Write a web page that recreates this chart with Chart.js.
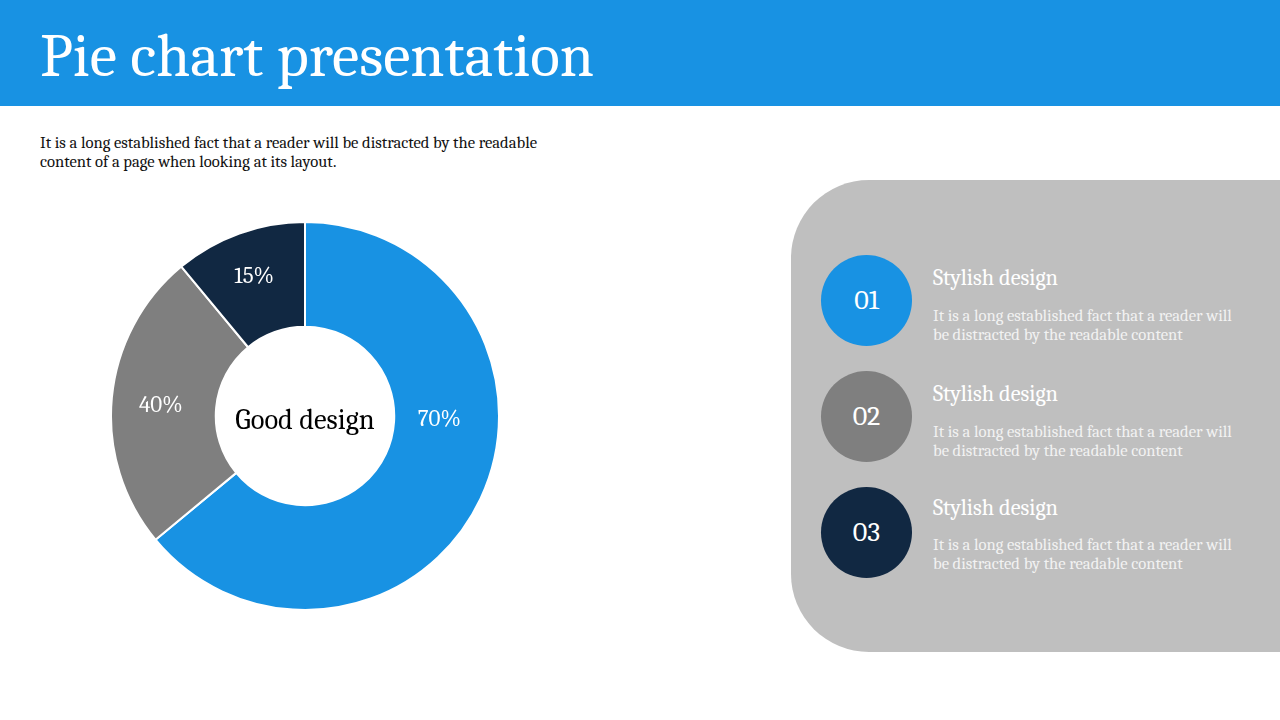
<!DOCTYPE html>
<html>
<head>
<meta charset="utf-8">
<script src="https://cdn.jsdelivr.net/npm/chart.js@4"></script>
<style>
  body { margin: 0; width: 1280px; height: 720px; position: relative; overflow: hidden; background: #fff;
         font-family: Cambria, "Liberation Serif", serif; }
  .header { position: absolute; left: 0; top: 0; width: 1280px; height: 106px; background: #1892E3; }
  .header h1 { margin: 0; position: absolute; left: 40px; top: 21px; color: #fff; font-weight: normal; font-size: 61.4px; line-height: 70px; }
  .intro { position: absolute; left: 40px; top: 133px; width: 515px; font-size: 16.6px; line-height: 19px; color: #111; }
  .panel { position: absolute; left: 791px; top: 180px; width: 489px; height: 472px; background: #BFBFBF;
           border-radius: 78px 0 0 78px; }
  .item { position: absolute; left: 821px; width: 440px; height: 92px; }
  .dot { position: absolute; left: 0; top: 0; width: 91px; height: 91px; border-radius: 50%; color: #fff;
         font-size: 28px; line-height: 91px; text-align: center; }
  .item h3 { position: absolute; left: 112px; top: 10px; margin: 0; font-weight: normal; font-size: 22.3px; color: #fff; white-space: nowrap; }
  .item p { position: absolute; left: 112px; top: 51px; margin: 0; font-size: 16.6px; line-height: 19px; color: #F2F2F2; width: 312px; }
  .chartbox { position: absolute; left: 110px; top: 221px; width: 390px; height: 390px; }
</style>
</head>
<body>
<div class="header"><h1>Pie chart presentation</h1></div>
<div class="intro">It is a long established fact that a reader will be distracted by the readable content of a page when looking at its layout.</div>
<div class="chartbox"><canvas id="myChart"></canvas></div>
<div class="panel"></div>
<div class="item" style="top:255px"><div class="dot" style="background:#1892E3">01</div><h3>Stylish design</h3><p>It is a long established fact that a reader will be distracted by the readable content</p></div>
<div class="item" style="top:371px"><div class="dot" style="background:#7F7F7F">02</div><h3>Stylish design</h3><p>It is a long established fact that a reader will be distracted by the readable content</p></div>
<div class="item" style="top:487px"><div class="dot" style="background:#112842">03</div><h3 style="top:8px">Stylish design</h3><p style="top:48px">It is a long established fact that a reader will be distracted by the readable content</p></div>
<script>
// slice sizes (share of the ring), and the printed labels
const categories = ["Blue", "Grey", "Navy"];
const sliceValues = [64, 25, 11];
const sliceLabels = ["70%", "40%", "15%"];
const centerText = "Good design";

// draws the percent text inside each arc and the text in the hole
const ringLabels = {
  id: "ringLabels",
  afterDatasetsDraw(chart, args, opts) {
    const ctx = chart.ctx;
    const meta = chart.getDatasetMeta(0);
    ctx.save();
    ctx.textAlign = "center";
    ctx.textBaseline = "middle";
    meta.data.forEach((arc, i) => {
      const p = arc.getProps(["x", "y", "startAngle", "endAngle", "innerRadius", "outerRadius"], true);
      const a = p.startAngle + (p.endAngle - p.startAngle) * opts.spots[i];
      const r = p.innerRadius + (p.outerRadius - p.innerRadius) * opts.depth[i];
      ctx.fillStyle = "#fff";
      ctx.font = "23px Cambria, 'Liberation Serif', serif";
      ctx.fillText(sliceLabels[i], p.x + Math.cos(a) * r, p.y + Math.sin(a) * r + 2);
    });
    const c = meta.data[0];
    ctx.fillStyle = "#000";
    ctx.font = "28.5px Cambria, 'Liberation Serif', serif";
    ctx.fillText(centerText, c.x, c.y + 5);
    ctx.restore();
  }
};

const data = {
  labels: categories,
  datasets: [
    {
      data: sliceValues,
      backgroundColor: ["#1892E3", "#7F7F7F", "#112842"],
      borderColor: "#fff",
      borderWidth: 2,
    },
  ],
};

const config = {
  type: "doughnut",
  data: data,
  options: {
    responsive: true,
    maintainAspectRatio: false,
    animation: false,
    cutout: "46%",
    layout: { padding: 0 },
    plugins: {
      legend: { display: false },
      tooltip: { enabled: false },
      ringLabels: { spots: [0.394, 0.495, 0.5], depth: [0.43, 0.53, 0.58] },
    },
  },
  plugins: [ringLabels],
};

myChart = new Chart(document.getElementById("myChart"), config);
</script>
</body>
</html>
